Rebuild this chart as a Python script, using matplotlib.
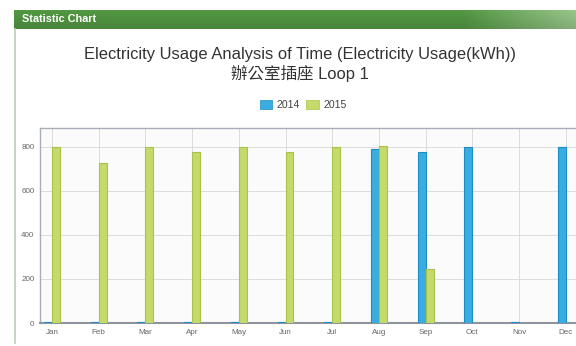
import matplotlib.pyplot as plt
import numpy as np
from matplotlib.patches import Patch

months = ['Jan', 'Feb', 'Mar', 'Apr', 'May', 'Jun', 'Jul', 'Aug', 'Sep', 'Oct', 'Nov', 'Dec']
usage_2014 = [3, 3, 3, 3, 3, 3, 3, 791, 776, 800, 3, 800]
usage_2015 = [800, 725, 800, 777, 800, 776, 800, 802, 246, 2, 2, 2]
yticks = [0, 200, 400, 600, 800]

W, H = 576, 346
fig = plt.figure(figsize=(W / 100, H / 100), dpi=100)
fig.patch.set_facecolor('white')

# green header bar of the panel
hdr = fig.add_axes([14 / W, 1 - 29 / H, 1 - 14 / W, 19 / H])
grad = np.linspace(0, 1, 300)
grad = np.clip((grad - 0.8) / 0.2, 0, 1)
c0 = np.array([0.30, 0.55, 0.24])
c1 = np.array([0.55, 0.72, 0.50])
img = c0[None, :] * (1 - grad[:, None]) + c1[None, :] * grad[:, None]
vert = np.linspace(1.08, 0.95, 20)[:, None, None]
img = np.clip(img[None, :, :] * vert, 0, 1)
hdr.imshow(img, aspect='auto', extent=[0, 1, 0, 1])
hdr.set_axis_off()
hdr.text(8 / (W - 14), 0.5, 'Statistic Chart', color='white', fontsize=7.8,
         fontweight='bold', family='Liberation Sans', va='center', ha='left')

# panel left border
fig.add_artist(plt.Line2D([14.5 / W, 14.5 / W], [1 - 343 / H, 1 - 29 / H],
                          color='#b9d0b3', lw=1.2))

fig.text(300 / W, 1 - 55 / H, 'Electricity Usage Analysis of Time (Electricity Usage(kWh))',
         ha='center', va='center', fontsize=11.9, color='#333333',
         family=['Liberation Sans', 'Noto Sans CJK TC'])
fig.text(300 / W, 1 - 74 / H, '辦公室插座 Loop 1',
         ha='center', va='center', fontsize=11.9, color='#333333',
         family=['Liberation Sans', 'Noto Sans CJK TC'])

ax = fig.add_axes([40 / W, 23 / H, 1 - 40 / W, 195 / H])
ax.set_facecolor('#fbfbfb')
x = np.arange(len(months))
bw = 0.17
ax.bar(x - bw / 2, usage_2014, bw, color='#3aace0', edgecolor='#1a8cc8', lw=0.8, zorder=3)
ax.bar(x + bw / 2, usage_2015, bw, color='#c4da6a', edgecolor='#a8c348', lw=0.8, zorder=3)

ax.set_xlim(-0.257, 11.22)
ax.set_ylim(0, 886)
ax.set_xticks(x)
ax.set_xticklabels(months)
ax.set_yticks(yticks)
ax.grid(True, color='#dddddd', lw=0.7, zorder=0)
ax.tick_params(length=0, labelsize=5.8, labelcolor='#666666', pad=4)
for lab in ax.get_xticklabels() + ax.get_yticklabels():
    lab.set_family('Liberation Sans')
ax.spines['right'].set_visible(False)
for s in ['left', 'top']:
    ax.spines[s].set_color('#a9adb5')
    ax.spines[s].set_linewidth(1.0)
ax.spines['bottom'].set_color('#8e949e')
ax.spines['bottom'].set_linewidth(1.5)

handles = [Patch(facecolor='#3aace0', edgecolor='#1a8cc8', lw=0.5),
           Patch(facecolor='#c4da6a', edgecolor='#a8c348', lw=0.5)]
fig.legend(handles, ['2014', '2015'], loc='center', bbox_to_anchor=(303 / W, 1 - 105 / H),
           ncol=2, frameon=False, handlelength=1.2, handleheight=1.0,
           handletextpad=0.4, columnspacing=0.6, labelcolor='#444444',
           prop={'family': 'Liberation Sans', 'size': 7.6})

fig.savefig('out.png', dpi=100)
